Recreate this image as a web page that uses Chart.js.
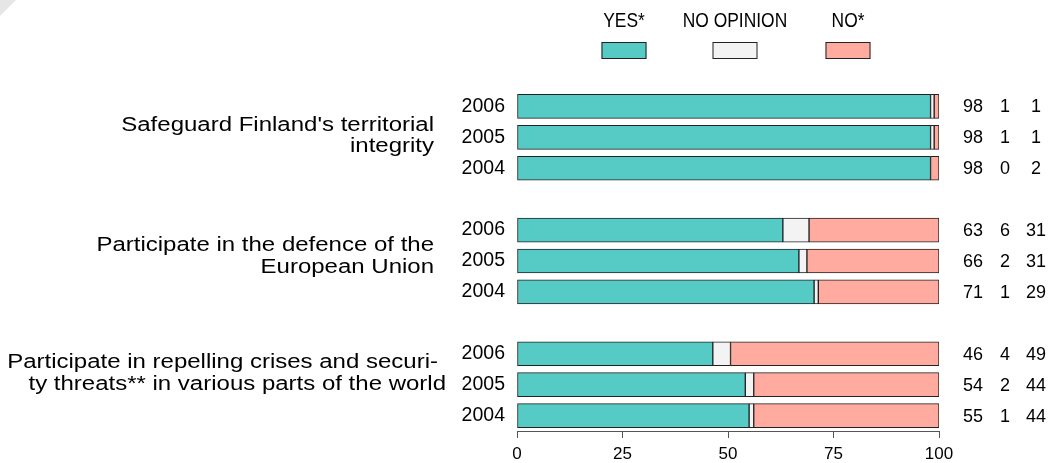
<!DOCTYPE html>
<html>
<head>
<meta charset="utf-8">
<script src="https://cdn.jsdelivr.net/npm/chart.js@4/dist/chart.umd.min.js"></script>
<style>
  html, body { margin: 0; padding: 0; background: #fff; }
  #wrap { position: relative; width: 1052px; height: 463px; }
</style>
</head>
<body>
<div id="wrap"><canvas id="c" width="1052" height="463"></canvas></div>
<script>
// ---- data ----
const years = ['2006', '2005', '2004'];
const groupLabels = [
  ["Safeguard Finland's territorial", "integrity"],
  ["Participate in the defence of the", "European Union"],
  ["Participate in repelling crises and securi-", "ty threats** in various parts of the world"]
];
const seriesNames = ['YES*', 'NO OPINION', 'NO*'];
// bar lengths (per cent), group by group, years 2006, 2005, 2004
const yesValues       = [98.0, 98.0, 98.0, 63.0, 66.8, 70.4, 46.4, 54.1, 55.0];
const noOpinionValues = [0.85, 0.85, 0.0, 6.2, 1.9, 1.0, 4.2, 2.0, 1.1];
const noValues        = [1.15, 1.15, 2.0, 30.8, 31.3, 28.6, 49.4, 43.9, 43.9];
// numbers printed on the right
const printedYes       = [98, 98, 98, 63, 66, 71, 46, 54, 55];
const printedNoOpinion = [1, 1, 0, 6, 2, 1, 4, 2, 1];
const printedNo        = [1, 1, 2, 31, 31, 29, 49, 44, 44];
const xTicks = [0, 25, 50, 75, 100];

// ---- styling ----
const colors = ['#56cbc5', '#f3f3f3', '#ffab9f'];
const FONT = '"Liberation Sans", Arial, Helvetica, sans-serif';

// build category table with spacer rows between groups
const labels = [];
const rowIndex = []; // index into value arrays or -1
for (let g = 0; g < groupLabels.length; g++) {
  if (g > 0) { labels.push(''); rowIndex.push(-1); }
  for (let y = 0; y < years.length; y++) {
    labels.push(years[y]);
    rowIndex.push(g * years.length + y);
  }
}
const expand = arr => rowIndex.map(i => (i < 0 ? null : arr[i]));
const seriesValues = [yesValues, noOpinionValues, noValues];
const printed = [printedYes, printedNoOpinion, printedNo];

const labelOffsets = [[-6, 15], [-10, 12], [-17, 5]];
const labelRight = [[434, 434], [434, 434], [438, 446]];
const legendCenters = [624, 735, 848];
const valueCols = [973, 1005, 1036];

function drawText(ctx, text, x, y, size, sx, align, baseline) {
  ctx.save();
  ctx.font = size + 'px ' + FONT;
  ctx.textAlign = align;
  ctx.textBaseline = baseline;
  ctx.fillStyle = '#000';
  ctx.translate(x, y);
  ctx.scale(sx, 1);
  ctx.fillText(text, 0, 0);
  ctx.restore();
}

const decoPlugin = {
  id: 'deco',
  beforeDraw(chart) {
    const ctx = chart.ctx;
    ctx.save();
    ctx.fillStyle = '#e6e6e6';
    ctx.beginPath();
    ctx.moveTo(0, 0); ctx.lineTo(16, 0); ctx.lineTo(0, 16); ctx.closePath();
    ctx.fill();
    ctx.restore();
  },
  afterDraw(chart) {
    const ctx = chart.ctx;
    const yScale = chart.scales.y;
    // legend
    chart.data.datasets.forEach((ds, i) => {
      const cx = legendCenters[i];
      drawText(ctx, ds.label, cx, 21, 20, 0.87, 'center', 'middle');
      ctx.save();
      ctx.fillStyle = ds.backgroundColor;
      ctx.fillRect(cx - 22.5, 42, 45, 17);
      ctx.strokeStyle = '#222';
      ctx.lineWidth = 1;
      ctx.strokeRect(cx - 22.5 + 0.5, 42.5, 44, 16);
      ctx.restore();
    });
    // group labels
    groupLabels.forEach((lines, g) => {
      const mid = yScale.getPixelForValue(g * (years.length + 1) + 1);
      lines.forEach((t, k) => {
        drawText(ctx, t, labelRight[g][k], mid + labelOffsets[g][k], 20, 1.2, 'right', 'alphabetic');
      });
    });
    // printed numbers
    rowIndex.forEach((ri, idx) => {
      if (ri < 0) return;
      const y = yScale.getPixelForValue(idx);
      printed.forEach((arr, s) => {
        drawText(ctx, String(arr[ri]), valueCols[s], y + 1, 18, 1, 'center', 'middle');
      });
    });
  }
};

new Chart(document.getElementById('c'), {
  type: 'bar',
  data: {
    labels: labels,
    datasets: seriesNames.map((name, i) => ({
      label: name,
      data: expand(seriesValues[i]),
      backgroundColor: colors[i],
      borderColor: '#222',
      borderWidth: 1,
      borderSkipped: false,
      barThickness: 24
    }))
  },
  options: {
    indexAxis: 'y',
    responsive: false,
    animation: false,
    layout: { padding: { top: 91, right: 113, left: 0, bottom: 0 } },
    plugins: { legend: { display: false }, tooltip: { enabled: false } },
    scales: {
      x: {
        stacked: true,
        min: 0, max: 100,
        afterBuildTicks(scale) { scale.ticks = xTicks.map(v => ({ value: v })); },
        afterFit(scale) { scale.height = 32; },
        grid: { drawOnChartArea: false, drawTicks: true, tickLength: 7, color: '#555', lineWidth: 1 },
        border: { display: true, color: '#555', width: 1 },
        ticks: { color: '#000', font: { family: FONT, size: 17 }, padding: 6, maxRotation: 0 }
      },
      y: {
        stacked: true,
        afterFit(scale) { scale.width = 517; },
        grid: { display: false, drawTicks: false },
        border: { display: false },
        ticks: { color: '#000', font: { family: FONT, size: 19.5 }, padding: 12, autoSkip: false }
      }
    }
  },
  plugins: [decoPlugin]
});
</script>
</body>
</html>
